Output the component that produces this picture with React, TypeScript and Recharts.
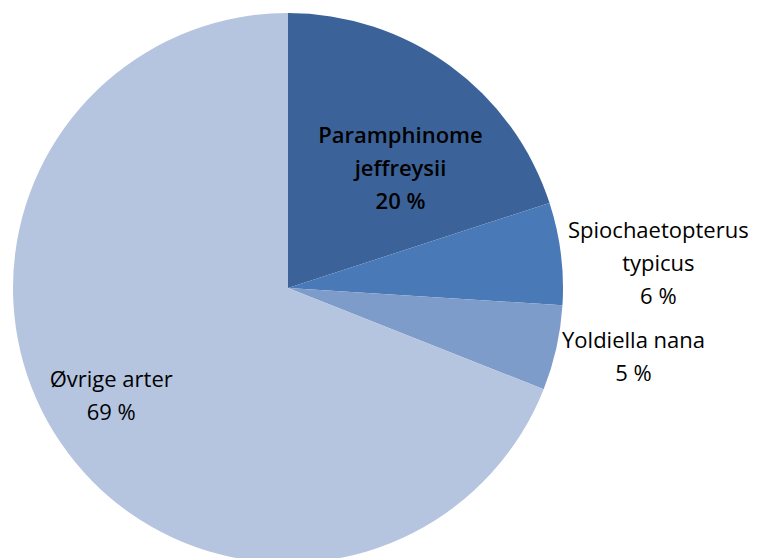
import { PieChart, Pie, Cell } from 'recharts'

const species = ['Paramphinome jeffreysii', 'Spiochaetopterus typicus', 'Yoldiella nana', 'Øvrige arter']
const shares = [20, 6, 5, 69]
const sliceColors = ['#3c6399', '#4a79b7', '#7e9cc9', '#b5c5e0']

// label text is split over lines like the original figure
const labelLines = [
  ['Paramphinome', 'jeffreysii'],
  ['Spiochaetopterus', 'typicus'],
  ['Yoldiella nana'],
  ['Øvrige arter'],
]

// where each label block sits: fraction of outer radius, angle in degrees (ccw from 3 o'clock)
const labelSpots = [
  { r: 0.6, angle: 47, bold: true },
  { r: 1.35, angle: 4, bold: false },
  { r: 1.28, angle: -11, bold: false },
  { r: 0.75, angle: 211, bold: false },
]

const data = species.map((name, i) => ({ name, value: shares[i] }))

const RAD = Math.PI / 180
const LINE = 33

const SliceLabel = (props: any) => {
  const { cx, cy, outerRadius, index, value } = props
  const spot = labelSpots[index]
  const x = cx + spot.r * outerRadius * Math.cos(spot.angle * RAD)
  const y = cy - spot.r * outerRadius * Math.sin(spot.angle * RAD)
  const lines = [...labelLines[index], `${value} %`]
  const top = y - ((lines.length - 1) * LINE) / 2
  return (
    <text
      x={x}
      y={top}
      textAnchor="middle"
      dominantBaseline="central"
      fill="#000"
      fontFamily="'Open Sans', Lato, sans-serif"
      fontSize={22}
      fontWeight={spot.bold ? 600 : 400}
    >
      {lines.map((line, i) => (
        <tspan key={i} x={x} y={top + i * LINE}>
          {line}
        </tspan>
      ))}
    </text>
  )
}

const App = () => {
  return (
    <div style={{ width: 751, height: 550, background: '#fff' }}>
      <PieChart
        width={751}
        height={550}
        margin={{ top: 0, right: 0, bottom: 0, left: 0 }}
        style={{ overflow: 'visible' }}
      >
        <Pie
          data={data}
          dataKey="value"
          nameKey="name"
          cx={280}
          cy={280}
          outerRadius={275}
          startAngle={90}
          endAngle={-270}
          stroke="none"
          labelLine={false}
          label={SliceLabel}
          isAnimationActive={false}
        >
          {data.map((d, i) => (
            <Cell key={d.name} fill={sliceColors[i]} />
          ))}
        </Pie>
      </PieChart>
    </div>
  )
}

export default App
